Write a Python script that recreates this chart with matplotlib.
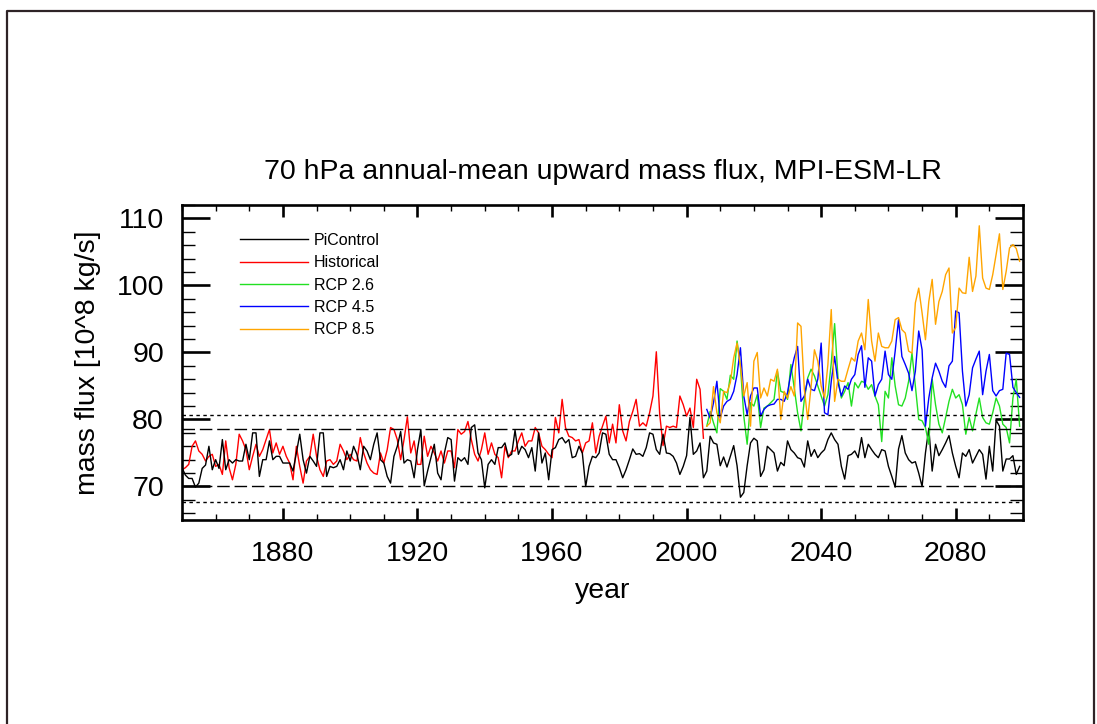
import numpy as np
import matplotlib.pyplot as plt
from matplotlib.lines import Line2D
from matplotlib.ticker import MultipleLocator

plt.rcParams['font.family'] = ['Liberation Sans', 'DejaVu Sans']

# annual means, 10^8 kg/s
pi_years = np.arange(1850, 2100)
pi_control = [
    72.8, 71.7, 71.2, 71.2, 69.9, 70.5, 72.7, 73.2, 76.0, 72.5,
    74.0, 72.7, 77.0, 72.5, 74.0, 73.5, 74.0, 73.8, 73.8, 76.3,
    74.0, 78.0, 78.0, 71.5, 74.0, 74.0, 76.8, 74.0, 74.5, 74.5,
    73.5, 73.5, 73.5, 72.3, 75.0, 77.8, 74.0, 72.0, 74.5, 73.8,
    73.0, 78.0, 78.0, 71.5, 73.0, 72.8, 73.0, 74.0, 72.5, 75.3,
    73.8, 76.0, 74.8, 72.5, 76.0, 75.3, 74.0, 76.3, 78.0, 74.0,
    73.5, 71.5, 70.5, 74.5, 76.0, 78.2, 73.5, 74.0, 73.8, 71.3,
    75.5, 78.5, 70.1, 72.3, 74.3, 76.3, 72.0, 71.0, 75.0, 77.3,
    77.0, 70.8, 74.3, 73.8, 74.3, 73.3, 78.8, 79.2, 75.0, 74.0,
    69.8, 73.3, 74.0, 73.3, 75.8, 75.8, 76.5, 74.5, 74.8, 78.4,
    74.8, 76.0, 75.5, 74.3, 75.8, 72.3, 78.0, 73.5, 75.0, 71.0,
    75.5, 75.8, 77.0, 77.3, 76.5, 77.0, 74.3, 74.5, 76.0, 75.0,
    70.0, 73.0, 74.5, 74.3, 75.0, 78.0, 77.8, 74.8, 74.0, 74.0,
    72.8, 71.3, 72.5, 74.0, 75.6, 74.8, 74.9, 74.5, 75.8, 78.0,
    77.8, 75.5, 74.8, 77.8, 75.0, 74.9, 74.5, 73.5, 71.8, 73.0,
    74.6, 80.3, 74.8, 75.3, 76.5, 71.3, 72.3, 77.5, 76.5, 76.3,
    73.1, 74.4, 72.9, 74.5, 76.1, 73.1, 68.4, 69.1, 73.1, 76.5,
    77.2, 76.8, 71.5, 72.5, 76.0, 75.5, 75.0, 72.3, 73.6, 73.1,
    76.8, 75.5, 75.0, 74.3, 74.1, 72.9, 76.8, 74.5, 75.5, 74.3,
    75.0, 75.5, 77.0, 78.0, 77.0, 76.3, 73.0, 71.1, 74.6, 74.8,
    75.3, 74.3, 77.3, 74.3, 76.3, 75.5, 74.8, 74.3, 75.5, 75.3,
    73.0, 71.5, 69.9, 75.6, 77.6, 75.0, 74.0, 73.5, 73.7, 72.0,
    70.0, 75.0, 78.7, 72.3, 76.3, 74.6, 75.5, 76.5, 77.6, 75.0,
    73.0, 71.3, 75.0, 74.5, 75.5, 73.5, 74.5, 75.5, 74.8, 71.1,
    76.0, 72.3, 79.9, 79.0, 72.3, 74.1, 74.1, 74.6, 71.8, 73.0,
]

hist_years = np.arange(1850, 2006)
historical = [
    72.5, 72.8, 73.3, 76.0, 76.8, 75.3, 74.8, 73.8, 74.5, 74.8,
    73.0, 73.3, 71.8, 76.8, 72.8, 71.0, 73.3, 77.8, 76.8, 75.5,
    72.5, 74.5, 76.3, 74.5, 75.5, 77.0, 78.5, 75.0, 76.5, 74.8,
    76.0, 74.5, 73.5, 71.0, 76.0, 73.0, 70.5, 73.8, 74.5, 77.8,
    74.5, 72.5, 71.5, 73.8, 74.0, 73.3, 73.8, 76.3, 75.3, 74.0,
    74.8, 74.0, 73.8, 77.3, 75.0, 73.5, 72.5, 72.0, 71.8, 75.0,
    73.5, 75.5, 78.8, 78.5, 77.0, 74.0, 77.0, 80.4, 75.0, 76.8,
    73.3, 73.3, 77.5, 74.5, 76.0, 75.0, 73.8, 75.3, 73.5, 75.3,
    75.3, 72.8, 78.5, 77.8, 78.2, 79.7, 77.0, 74.8, 73.8, 75.5,
    78.0, 74.8, 76.5, 74.8, 74.3, 71.3, 76.0, 74.3, 75.3, 75.3,
    76.8, 78.0, 76.0, 76.8, 76.8, 78.8, 78.0, 76.0, 75.5, 74.8,
    74.3, 80.3, 78.0, 83.0, 78.8, 77.5, 77.3, 76.8, 77.0, 75.0,
    76.5, 76.8, 79.5, 75.0, 77.5, 79.0, 80.5, 76.5, 79.3, 76.5,
    82.2, 78.3, 76.8, 79.7, 81.2, 83.0, 79.0, 79.5, 79.0, 81.0,
    83.5, 90.1, 80.8, 76.1, 79.0, 78.8, 79.0, 78.8, 83.5, 82.2,
    80.5, 81.7, 78.8, 86.0, 84.5, 77.2,
]

rcp_years = np.arange(2006, 2100)
rcp26 = [
    79.0, 81.2, 79.5, 78.0, 84.6, 84.2, 83.0, 86.6, 86.0, 91.7,
    88.0, 80.5, 76.3, 82.5, 82.0, 83.7, 78.8, 81.7, 82.0, 82.5,
    83.0, 87.2, 84.2, 84.0, 83.0, 88.2, 84.7, 81.0, 78.3, 83.0,
    86.2, 87.5, 86.5, 85.0, 83.5, 82.0, 83.7, 88.4, 94.3, 86.2,
    83.2, 84.2, 85.5, 82.0, 85.5, 84.7, 85.7, 85.5, 84.5, 85.2,
    83.5, 82.2, 76.7, 84.2, 83.2, 89.2, 85.0, 82.2, 82.0, 83.2,
    85.7, 89.9, 85.0, 80.0, 79.8, 78.8, 76.3, 86.0, 82.2, 79.3,
    78.0, 80.3, 82.7, 84.5, 83.2, 83.7, 82.2, 77.8, 80.3, 78.3,
    80.8, 83.2, 80.3, 79.5, 79.3, 81.0, 83.2, 82.0, 79.3, 78.8,
    76.5, 83.2, 86.0, 79.0,
]
rcp45 = [
    81.5, 80.2, 82.5, 85.7, 80.2, 82.0, 82.7, 83.0, 84.2, 86.7,
    90.7, 83.5, 80.7, 83.5, 84.7, 84.7, 80.5, 81.5, 82.0, 82.2,
    82.3, 83.0, 83.0, 82.7, 84.0, 86.9, 89.2, 90.9, 82.7, 83.5,
    86.0, 84.5, 84.3, 86.0, 91.4, 81.0, 80.7, 85.7, 89.4, 85.5,
    83.5, 85.0, 84.5, 86.0, 86.7, 89.7, 91.0, 84.8, 89.2, 88.7,
    83.5, 85.2, 86.0, 90.2, 86.7, 86.0, 90.2, 94.9, 89.4, 88.2,
    86.9, 84.3, 87.2, 93.2, 90.4, 79.0, 83.2, 86.2, 88.4, 87.2,
    85.7, 84.8, 88.0, 88.7, 96.2, 95.9, 87.2, 82.0, 83.7, 87.7,
    89.0, 90.2, 83.7, 87.2, 89.7, 84.3, 83.5, 84.3, 84.5, 89.9,
    89.7, 84.8, 84.0, 83.3,
]
rcp85 = [
    79.0, 79.5, 84.9, 81.0, 79.5, 84.2, 84.0, 85.5, 89.2, 91.4,
    88.0, 83.5, 85.5, 79.0, 88.7, 90.0, 83.2, 84.7, 83.5, 86.0,
    85.7, 87.5, 80.0, 84.2, 83.2, 84.9, 83.5, 94.4, 93.9, 84.5,
    80.0, 84.9, 90.4, 88.7, 85.0, 83.2, 88.2, 96.4, 82.7, 86.0,
    85.7, 85.7, 87.5, 89.2, 88.7, 91.7, 92.9, 90.4, 97.9, 91.7,
    88.7, 92.9, 90.9, 90.7, 90.7, 91.7, 94.9, 95.2, 93.4, 92.9,
    90.2, 89.9, 97.4, 99.6, 95.9, 91.9, 97.6, 100.9, 94.2, 97.6,
    99.1, 101.6, 102.6, 92.9, 93.7, 99.6, 98.9, 98.8, 104.2, 99.1,
    101.4, 108.9, 101.1, 99.6, 99.4, 101.6, 104.6, 107.7, 99.4, 102.1,
    105.6, 106.1, 105.5, 103.6,
]

# PiControl spread levels
dashed_levels = [70.0, 78.6]
dotted_levels = [67.7, 80.7]

fig = plt.figure(figsize=(10.97, 7.24), dpi=100)
ax = fig.add_axes([182 / 1097, 1 - 520 / 724, 841 / 1097, 315 / 724])

ax.plot(hist_years, historical, color='#ff0000', lw=1.0, label='Historical')
ax.plot(pi_years, pi_control, color='black', lw=1.0, label='PiControl')
ax.plot(rcp_years, rcp26, color='#22e022', lw=1.0, label='RCP 2.6')
ax.plot(rcp_years, rcp45, color='#0000ff', lw=1.0, label='RCP 4.5')
ax.plot(rcp_years, rcp85, color='#ffa500', lw=1.0, label='RCP 8.5')

for lev in dashed_levels:
    ax.axhline(lev, color='black', lw=1.0, dashes=(9, 3.5))
for lev in dotted_levels:
    ax.axhline(lev, color='black', lw=1.0, dashes=(2.5, 2.5))

ax.set_xlim(1850, 2100)
ax.set_ylim(65, 112)
ax.xaxis.set_minor_locator(MultipleLocator(10))
ax.set_xticks([1880, 1920, 1960, 2000, 2040, 2080])
ax.yaxis.set_minor_locator(MultipleLocator(2))
ax.set_yticks([70, 80, 90, 100, 110])

for s in ax.spines.values():
    s.set_linewidth(1.9)
ax.tick_params(which='both', direction='in', top=True, right=True, labelsize=20.5)
ax.tick_params(axis='x', which='major', length=8.6, width=1.9, pad=15)
ax.tick_params(axis='x', which='minor', length=4.3, width=1.0)
ax.tick_params(axis='y', which='major', length=20, width=1.9, pad=13)
ax.tick_params(axis='y', which='minor', length=9.5, width=1.0)

ax.text(0.5, 1 + 33 / 315, '70 hPa annual-mean upward mass flux, MPI-ESM-LR',
        transform=ax.transAxes, ha='center', va='center', fontsize=20.5)
ax.text(0.5, -71 / 315, 'year', transform=ax.transAxes,
        ha='center', va='center', fontsize=20.5)
ax.text(-94 / 841, 0.5, 'mass flux [10^8 kg/s]', transform=ax.transAxes,
        ha='center', va='center', rotation=90, fontsize=20.5)

handles, labels = ax.get_legend_handles_labels()
order = [1, 0, 2, 3, 4]
ax.legend([handles[i] for i in order], [labels[i] for i in order],
          loc='upper left', bbox_to_anchor=(58 / 841, 1 - 28 / 315),
          frameon=False, fontsize=11.5, handlelength=4.25, handletextpad=0.38,
          labelspacing=0.46, borderpad=0, borderaxespad=0)

# outer frame
frame_col = '#2e2326'
fig.add_artist(Line2D([7 / 1097, 7 / 1097, 1094 / 1097, 1094 / 1097],
                      [0, 1 - 11 / 724, 1 - 11 / 724, 0],
                      transform=fig.transFigure, color=frame_col, lw=1.6))

fig.savefig('out.png', dpi=100)
